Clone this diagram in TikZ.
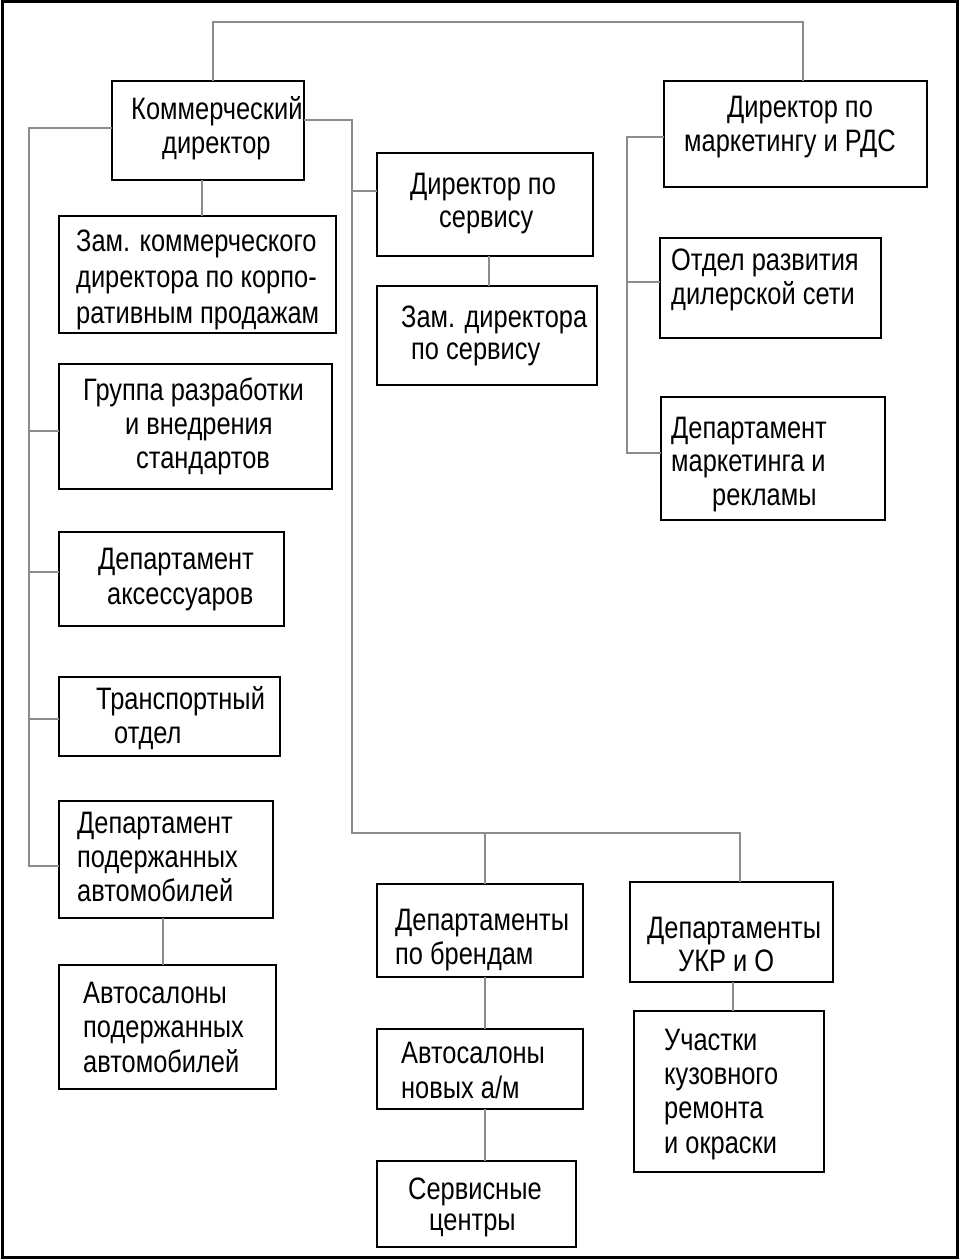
\documentclass[tikz,border=0pt]{standalone}
\usepackage{fontspec}
\setmainfont{Liberation Sans}[FakeStretch=0.82]
\newcommand\obox[5]{\node[box,minimum width=#4pt,minimum height=#5pt] (#1) at (#2,#3) {};}
\begin{document}
\begin{tikzpicture}[x=1pt,y=-1pt,
  box/.style={draw=black,line width=2.4pt,inner sep=0pt,outer sep=0pt},
  txt/.style={anchor=base west,align=left,inner sep=0pt,font=\fontsize{31}{34.5}\selectfont},
  conn/.style={draw=black!45,line width=1.3pt}]
\fill[white] (0,0) rectangle (960,1260);
\draw[line width=3pt] (2,2) rectangle (957,1257);
% boxes
\obox{k1}{208}{130.5}{192}{99}
\obox{mk}{795.5}{134}{263}{106}
\obox{z1}{197.5}{274.5}{277}{117}
\obox{gr}{195.5}{426.5}{273}{125}
\obox{da}{171.5}{579}{225}{94}
\obox{tr}{169.5}{716.5}{221}{79}
\obox{dp}{166}{859.5}{214}{117}
\obox{ap}{167.5}{1027}{217}{124}
\obox{ds}{485}{204.5}{216}{103}
\obox{zs}{487}{335.5}{220}{99}
\obox{od}{770.5}{288}{221}{100}
\obox{dm}{773}{458.5}{224}{123}
\obox{db}{480}{930.5}{206}{93}
\obox{an}{480}{1069}{206}{80}
\obox{sc}{476.5}{1204}{199}{86}
\obox{du}{731.5}{932}{203}{100}
\obox{uk}{729}{1091.5}{190}{161}
% texts (anchored at the baseline of the last line)
\node[txt] (k1t) at (131,154) {Коммерческий\\\hspace*{31pt}директор};
\node[txt] (mkt) at (684,152) {\hspace*{43pt}Директор по\\маркетингу и РДС};
\node[txt,font=\fontsize{31}{36}\selectfont] (z1t) at (76,323) {Зам. коммерческого\\директора по корпо-\\ративным продажам};
\node[txt,font=\fontsize{31}{34}\selectfont] (grt) at (83,468) {Группа разработки\\\hspace*{42pt}и внедрения\\\hspace*{53pt}стандартов};
\node[txt,font=\fontsize{31}{35}\selectfont] (dat) at (98,604) {Департамент\\\hspace*{9pt}аксессуаров};
\node[txt,font=\fontsize{31}{34}\selectfont] (trt) at (96,743) {Транспортный\\\hspace*{18pt}отдел};
\node[txt,font=\fontsize{31}{34}\selectfont] (dpt) at (77,901) {Департамент\\подержанных\\автомобилей};
\node[txt] (apt) at (83,1072) {Автосалоны\\подержанных\\автомобилей};
\node[txt,font=\fontsize{31}{33}\selectfont] (dst) at (410,227) {Директор по\\\hspace*{29pt}сервису};
\node[txt,font=\fontsize{31}{32}\selectfont] (zst) at (401,359) {Зам. директора\\\hspace*{10pt}по сервису};
\node[txt,font=\fontsize{31}{34}\selectfont] (odt) at (671,304) {Отдел развития\\дилерской сети};
\node[txt,font=\fontsize{31}{33.5}\selectfont] (dmt) at (671,505) {Департамент\\маркетинга и\\\hspace*{41pt}рекламы};
\node[txt,font=\fontsize{31}{34}\selectfont] (dbt) at (395,964) {Департаменты\\по брендам};
\node[txt,font=\fontsize{31}{35}\selectfont] (ant) at (401,1098) {Автосалоны\\новых а/м};
\node[txt,font=\fontsize{31}{31}\selectfont] (sct) at (408,1230) {Сервисные\\\hspace*{21pt}центры};
\node[txt,font=\fontsize{31}{33}\selectfont] (dut) at (647,971) {Департаменты\\\hspace*{31pt}УКР и О};
\node[txt,font=\fontsize{31}{34.3}\selectfont] (ukt) at (664,1153) {Участки\\кузовного\\ремонта\\и окраски};
% connectors
\coordinate (topL) at (213,22);
\draw[conn] ([xshift=5pt]k1.north) -- (topL) -| ([xshift=7.5pt]mk.north);
\draw[conn] ([yshift=2.5pt]k1.west) -| ([xshift=-30pt,yshift=-6.5pt]dp.west) -- ([yshift=-6.5pt]dp.west);
\draw[conn] ([yshift=-4.5pt]gr.west) -- ++(-30,0);
\draw[conn] ([yshift=7pt]da.west) -- ++(-30,0);
\draw[conn] ([yshift=-2.5pt]tr.west) -- ++(-30,0);
\draw[conn] ([xshift=-6pt]k1.south) -- ([xshift=-6pt]k1.south |- z1.north);
\draw[conn] ([xshift=-3pt]dp.south) -- ([xshift=-3pt]dp.south |- ap.north);
\coordinate (rt) at (352,833);
\draw[conn] ([yshift=10.5pt]k1.east) -| (rt) -| ([xshift=8.5pt]du.north);
\draw[conn] ([yshift=13.5pt]ds.west) -- ++(-25,0);
\draw[conn] ([xshift=5pt]db.north) -- ([xshift=5pt]db.north |- rt);
\draw[conn] ([xshift=4pt]ds.south) -- ([xshift=4pt]ds.south |- zs.north);
\draw[conn] ([xshift=5pt]db.south) -- ([xshift=5pt]db.south |- an.north);
\draw[conn] ([xshift=5pt]an.south) -- ([xshift=5pt]an.south |- sc.north);
\draw[conn] ([xshift=1.5pt]du.south) -- ([xshift=1.5pt]du.south |- uk.north);
\draw[conn] ([yshift=-3pt]mk.west) -| ([xshift=-34pt,yshift=5.5pt]dm.west) -- ([yshift=5.5pt]dm.west);
\draw[conn] ([yshift=6pt]od.west) -- ++(-33,0);
\end{tikzpicture}
\end{document}
